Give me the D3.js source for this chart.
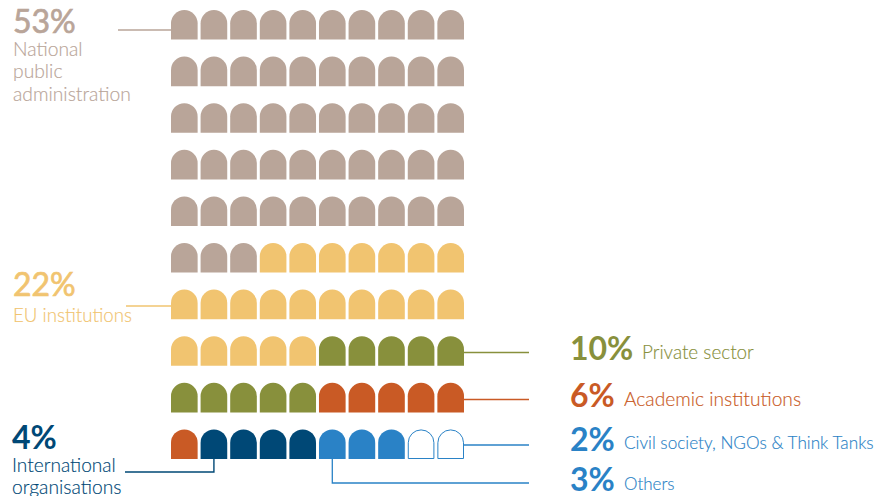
<!DOCTYPE html>
<html>
<head>
<meta charset="utf-8">
<script src="https://cdn.jsdelivr.net/npm/d3@7"></script>
<style>
  html, body { margin: 0; padding: 0; background: #fff; }
  text { font-family: Lato, "Open Sans", sans-serif; }
</style>
</head>
<body>
<svg id="chart" width="875" height="496"></svg>
<script>
// shares in the order the cells fill the grid, left to right, top to bottom
var categories = ["National public administration", "EU institutions", "Private sector",
  "Academic institutions", "International organisations", "Others", "Civil society, NGOs & Think Tanks"];
var shares = [53, 22, 10, 6, 4, 3, 2];
var colors = ["#b9a599", "#f1c470", "#88903c", "#c95a25", "#004876", "#2a82c6", "#2a82c6"];
var hollow = ["Civil society, NGOs & Think Tanks"];

var columns = d3.range(10);
var rows = d3.range(10);

var svg = d3.select("#chart");

var x = d3.scaleBand().domain(columns).range([171, 464]).paddingInner(0.1);
var y = d3.scaleBand().domain(rows).range([10, 459]).paddingInner(0.365);
var color = d3.scaleOrdinal().domain(categories).range(colors);

// one cell per percent
var cells = [];
categories.forEach(function(c, i){
  d3.range(shares[i]).forEach(function(){
    var n = cells.length;
    cells.push({category: c, row: Math.floor(n / 10), col: n % 10});
  });
});

function arch(w, h){
  var r = w / 2;
  return "M0," + h + "V" + r + "A" + r + "," + r + " 0 0 1 " + w + "," + r + "V" + h + "Z";
}

svg.selectAll("path.cell")
  .data(cells)
  .enter()
  .append("path")
  .attr("class", "cell")
  .attr("transform", function(d){
    // keep the outline of hollow cells inside the cell
    var off = hollow.includes(d.category) ? 0.5 : 0;
    return "translate(" + (x(d.col) + off) + "," + (y(d.row) + off) + ")";
  })
  .attr("d", function(d){
    if (hollow.includes(d.category)) {
      return arch(x.bandwidth() - 1, y.bandwidth() - 1);
    }
    return arch(x.bandwidth(), y.bandwidth());
  })
  .attr("fill", function(d){ return hollow.includes(d.category) ? "#fff" : color(d.category); })
  .attr("stroke", function(d){ return hollow.includes(d.category) ? color(d.category) : "none"; })
  .attr("stroke-width", 1);

// leader lines, anchored on the grid where they touch it
var bottom = y(9) + y.bandwidth();
var right = x(9) + x.bandwidth();
var leaders = [
  {c: 0, pts: [[118, 30], [x(0), 30]], w: 1.4},
  {c: 1, pts: [[126, 306], [x(0), 306]], w: 1.4},
  {c: 2, pts: [[right, 352.5], [529, 352.5]], w: 1.3},
  {c: 3, pts: [[right, 399.5], [529, 399.5]], w: 1.3},
  {c: 4, pts: [[125, 472], [x(1) + x.bandwidth() / 2, 472], [x(1) + x.bandwidth() / 2, bottom]], w: 1.4},
  {c: 5, pts: [[x(5) + x.bandwidth() / 2, bottom], [x(5) + x.bandwidth() / 2, 483], [529, 483]], w: 1.3},
  {c: 6, pts: [[right, 445], [529, 445]], w: 1.3}
];
svg.selectAll("path.leader")
  .data(leaders)
  .enter()
  .append("path")
  .attr("class", "leader")
  .attr("fill", "none")
  .attr("stroke", function(d){ return colors[d.c]; })
  .attr("stroke-width", function(d){ return d.w; })
  .attr("d", function(d){ return d3.line()(d.pts); });

// percentages, the two pale ones are regular weight thickened with a stroke
var pct = [
  {c: 0, x: 13, y: 33, weight: 400, thick: 0.7},
  {c: 1, x: 13, y: 296, weight: 400, thick: 0.7},
  {c: 2, x: 570, y: 360, weight: 700, thick: 0},
  {c: 3, x: 570, y: 407, weight: 700, thick: 0},
  {c: 4, x: 12, y: 449, weight: 700, thick: 0},
  {c: 5, x: 570, y: 491, weight: 700, thick: 0},
  {c: 6, x: 570, y: 451, weight: 700, thick: 0}
];
svg.selectAll("text.pct")
  .data(pct)
  .enter()
  .append("text")
  .attr("class", "pct")
  .attr("x", function(d){ return d.x; })
  .attr("y", function(d){ return d.y; })
  .attr("fill", function(d){ return colors[d.c]; })
  .attr("stroke", function(d){ return colors[d.c]; })
  .attr("stroke-width", function(d){ return d.thick; })
  .attr("font-size", 32)
  .attr("font-weight", function(d){ return d.weight; })
  .text(function(d){ return shares[d.c] + "%"; });

// names, wrapped the way the original wraps them
var names = [
  {c: 0, t: "National", x: 13, y: 56, size: 19.3},
  {c: 0, t: "public", x: 13, y: 78, size: 19.3},
  {c: 0, t: "administration", x: 13, y: 101, size: 19.3},
  {c: 1, t: "EU institutions", x: 13, y: 322, size: 18.7},
  {c: 2, t: "Private sector", x: 642, y: 359, size: 18.9},
  {c: 3, t: "Academic institutions", x: 624, y: 406, size: 19.2},
  {c: 4, t: "International", x: 12, y: 472, size: 19.1},
  {c: 4, t: "organisations", x: 12, y: 494, size: 19.3},
  {c: 5, t: "Others", x: 624, y: 490, size: 17},
  {c: 6, t: "Civil society, NGOs & Think Tanks", x: 624, y: 449, size: 17.2}
];
svg.selectAll("text.name")
  .data(names)
  .enter()
  .append("text")
  .attr("class", "name")
  .attr("x", function(d){ return d.x; })
  .attr("y", function(d){ return d.y; })
  .attr("fill", function(d){ return colors[d.c]; })
  .attr("stroke", function(d){ return colors[d.c]; })
  .attr("stroke-width", 0.15)
  .attr("font-size", function(d){ return d.size; })
  .attr("font-weight", 300)
  .text(function(d){ return d.t; });
</script>
</body>
</html>
